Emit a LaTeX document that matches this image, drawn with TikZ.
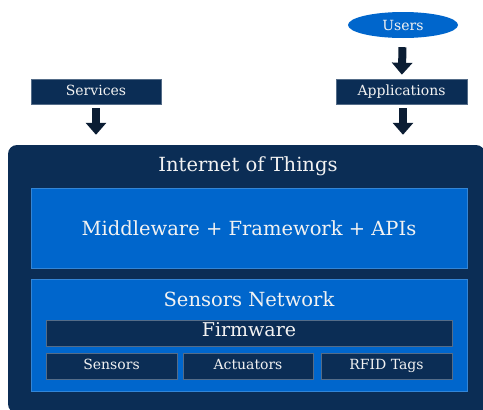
\documentclass[tikz,border=0pt]{standalone}
\usepackage{fontspec}
\setmainfont{DejaVu Serif}
\usepackage{xcolor}
\usetikzlibrary{shapes,arrows.meta,positioning}

\definecolor{iotnavy}{HTML}{0B2D55}
\definecolor{iotblue}{HTML}{0066CC}
\definecolor{arrowdark}{HTML}{0B1D33}
\definecolor{labelwhite}{HTML}{F2F2F2}

\begin{document}
\begin{tikzpicture}[
        x=1pt, y=-1pt,
        navybox/.style={rectangle, draw=iotnavy!70!white, line width=0.6pt, fill=iotnavy, text=labelwhite, inner sep=0pt, text height=0.72em, text depth=0pt, font=\fontsize{14}{16}\selectfont},
        bluebox/.style={rectangle, draw=iotblue!80!white, line width=0.6pt, fill=iotblue, text=labelwhite, inner sep=0pt},
        user/.style={ellipse, fill=iotblue, text=labelwhite, inner sep=0pt, minimum width=110pt, minimum height=26pt, font=\fontsize{14}{16}\selectfont},
        bigarrow/.style={draw=arrowdark, line width=8pt, -{Triangle[width=20pt,length=12pt]}}
    ]
        \useasboundingbox (0,0) rectangle (483,410);

        % Internet of Things
        \node [rectangle, fill=iotnavy, rounded corners=9pt, minimum width=477pt, minimum height=268pt, inner sep=0pt] (iot) at (246.5,279) {};
        \node [text=labelwhite, font=\fontsize{19.5}{22}\selectfont] (iottitle) at (248,166) {Internet of Things};

        % Middleware
        \node [bluebox, minimum width=436pt, minimum height=80pt, font=\fontsize{19.5}{22}\selectfont] (middleware) at (249,228.5) {Middleware + Framework + APIs};

        % Sensors Network
        \node [bluebox, minimum width=436pt, minimum height=112pt] (sensnet) at (249,335) {};
        \node [text=labelwhite, font=\fontsize{19.5}{22}\selectfont] (senstitle) at (249,299) {Sensors Network};

        % Firmware
        \node [navybox, minimum width=406pt, minimum height=26pt, font=\fontsize{19}{22}\selectfont] (firmware) at (249,333) {Firmware};

        % Devices
        \node [navybox, minimum width=131pt, minimum height=26pt] (sensors) at (111.5,366) {Sensors};
        \node [navybox, minimum width=130pt, minimum height=26pt] (actuators) at (248,366) {Actuators};
        \node [navybox, minimum width=131pt, minimum height=26pt] (rfid) at (386.5,366) {RFID Tags};

        % Top
        \node [user] (users) at (403,25) {Users};
        \node [navybox, minimum width=131pt, minimum height=25pt] (apps) at (401.5,91.5) {Applications};
        \node [navybox, minimum width=130pt, minimum height=25pt] (services) at (96,91.5) {Services};

        % Arrows
        \draw [bigarrow, shorten <=9pt, shorten >=4pt] (users) -- (apps);
        \draw [bigarrow, shorten <=4pt, shorten >=10pt] (services) -- (services |- iot.north);
        \draw [bigarrow, shorten <=4pt, shorten >=10pt] (apps.south -| users) -- (users |- iot.north);

    \end{tikzpicture}
\end{document}
